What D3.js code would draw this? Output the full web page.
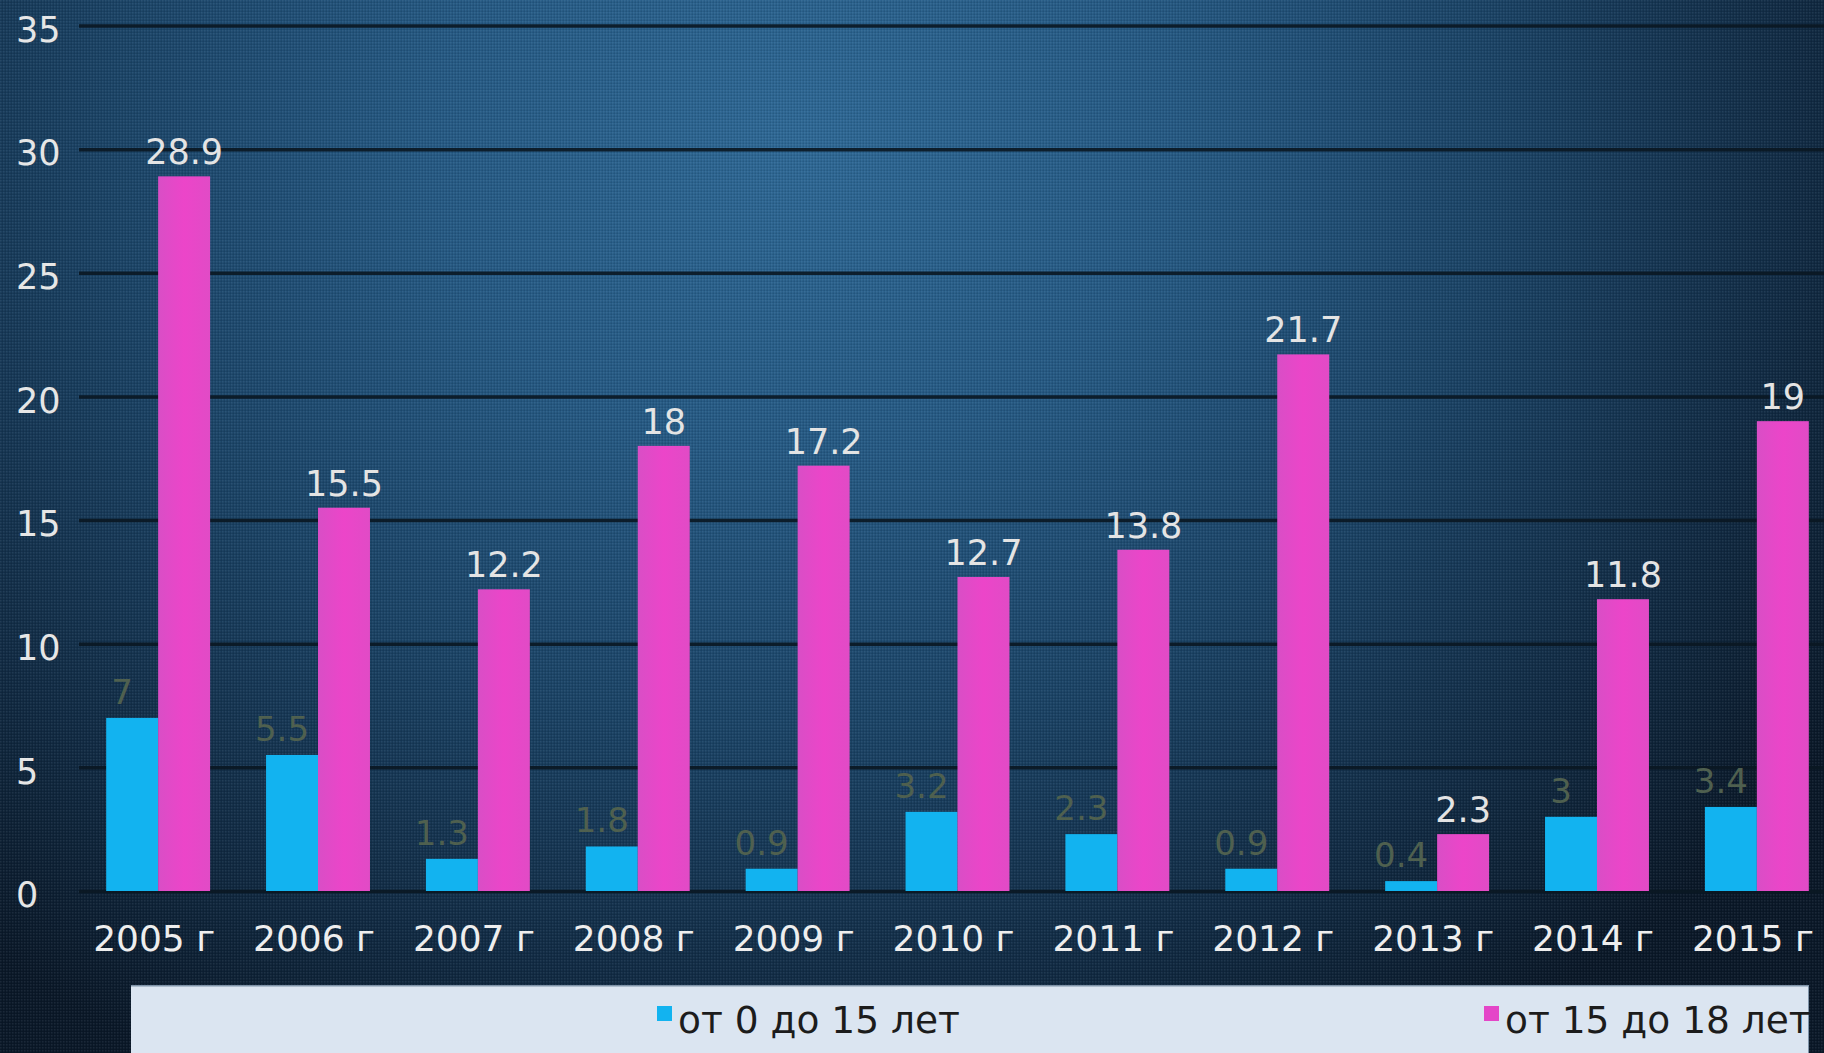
<!DOCTYPE html>
<html>
<head>
<meta charset="utf-8">
<script src="https://cdn.jsdelivr.net/npm/d3@7"></script>
<style>
  html, body { margin: 0; padding: 0; background: #0c1a28; }
  svg { display: block; font-family: "DejaVu Sans", Verdana, sans-serif; }
</style>
</head>
<body>
<svg id="chart" width="1824" height="1053"></svg>
<script>
// Years shown on the category axis
const years = ["2005 г", "2006 г", "2007 г", "2008 г", "2009 г", "2010 г",
               "2011 г", "2012 г", "2013 г", "2014 г", "2015 г"];
// Series: age 0–15 and age 15–18
const seriesNames = ["от 0 до 15 лет", "от 15 до 18 лет"];
const under15 = [7, 5.5, 1.3, 1.8, 0.9, 3.2, 2.3, 0.9, 0.4, 3, 3.4];
const from15to18 = [28.9, 15.5, 12.2, 18, 17.2, 12.7, 13.8, 21.7, 2.3, 11.8, 19];
// Value axis ticks
const yTicks = [0, 5, 10, 15, 20, 25, 30, 35];

const W = 1824, H = 1053;
const svg = d3.select("#chart");
const defs = svg.append("defs");

// Background: soft radial blue glow
const bg = defs.append("radialGradient")
  .attr("id", "bgGrad")
  .attr("gradientUnits", "userSpaceOnUse")
  .attr("cx", 800).attr("cy", 140).attr("r", 1250)
  .attr("gradientTransform", "translate(800,140) scale(1,0.85) translate(-800,-140)");
[[0, "#2e6895"], [0.3, "#255983"], [0.55, "#1b4467"], [0.8, "#112b44"], [1, "#0a1828"]]
  .forEach(([o, c]) => bg.append("stop").attr("offset", o).attr("stop-color", c));

// Fine woven texture over the background
const pat = defs.append("pattern")
  .attr("id", "weave").attr("width", 3).attr("height", 3)
  .attr("patternUnits", "userSpaceOnUse");
pat.append("rect").attr("x", 0).attr("y", 0).attr("width", 1.5).attr("height", 1.5)
  .attr("fill", "#ffffff").attr("opacity", 0.07);
pat.append("rect").attr("x", 1.5).attr("y", 1.5).attr("width", 1.5).attr("height", 1.5)
  .attr("fill", "#000000").attr("opacity", 0.12);

// Pink bars have a slight sheen across their width
const pinkGrad = defs.append("linearGradient").attr("id", "pinkGrad")
  .attr("x1", 0).attr("x2", 1).attr("y1", 0).attr("y2", 0);
[[0, "#d94ec6"], [0.5, "#ec45c9"], [1, "#e14bc6"]]
  .forEach(([o, c]) => pinkGrad.append("stop").attr("offset", o).attr("stop-color", c));

svg.append("rect").attr("width", W).attr("height", H).attr("fill", "url(#bgGrad)");
svg.append("rect").attr("width", W).attr("height", H).attr("fill", "url(#weave)");

// Scales
const x = d3.scaleBand().domain(years).range([79, 1836])
  .paddingInner(0.35).paddingOuter(0.17);
const xs = d3.scaleBand().domain(seriesNames).range([0, x.bandwidth()]);
const y = d3.scaleLinear().domain([0, 35]).range([891, 25.5]);

// Horizontal gridlines
const grid = svg.append("g").attr("transform", "translate(79,0)")
  .call(d3.axisLeft(y).tickValues(yTicks).tickSize(-(W - 79)).tickFormat(""));
grid.select(".domain").remove();
grid.selectAll("line").attr("stroke", "#0a1722").attr("stroke-width", 3.5).attr("stroke-opacity", 0.9);

// Value axis labels (left aligned)
const yAxis = svg.append("g").attr("transform", "translate(16,0)")
  .call(d3.axisLeft(y).tickValues(yTicks).tickSize(0).tickPadding(0));
yAxis.select(".domain").remove();
yAxis.selectAll("text")
  .attr("text-anchor", "start").attr("x", 0).attr("dy", "0.45em")
  .attr("fill", "#e6e6e6").attr("font-size", 35)
  .attr("font-family", "DejaVu Sans, sans-serif");

// Category axis labels
const xAxis = svg.append("g").attr("transform", "translate(0,951)")
  .call(d3.axisBottom(x).tickSize(0).tickPadding(0));
xAxis.select(".domain").remove();
xAxis.selectAll("text")
  .attr("dy", 0).attr("dx", -4).attr("fill", "#eeeeee").attr("font-size", 36)
  .attr("font-family", "DejaVu Sans, sans-serif");

const rows = years.map((yr, i) => ({ year: yr, a: under15[i], b: from15to18[i] }));
const fmt = v => String(v);

// Labels of the 0–15 series sit behind the bars, a little left of centre
svg.append("g").selectAll("text").data(rows).join("text")
  .attr("x", d => x(d.year) + xs(seriesNames[0]) + xs.bandwidth() / 2 - 10)
  .attr("y", d => y(d.a) - 14)
  .attr("text-anchor", "middle")
  .attr("font-size", 34).attr("fill", "#4f604f")
  .text(d => fmt(d.a));

// Bars
const bars = svg.append("g");
bars.selectAll("rect.a").data(rows).join("rect").attr("class", "a")
  .attr("x", d => x(d.year) + xs(seriesNames[0]))
  .attr("width", xs.bandwidth())
  .attr("y", d => y(d.a))
  .attr("height", d => y(0) - y(d.a))
  .attr("fill", "#12b3f0");
bars.selectAll("rect.b").data(rows).join("rect").attr("class", "b")
  .attr("x", d => x(d.year) + xs(seriesNames[1]))
  .attr("width", xs.bandwidth())
  .attr("y", d => y(d.b))
  .attr("height", d => y(0) - y(d.b))
  .attr("fill", "url(#pinkGrad)");

// Labels of the 15–18 series
svg.append("g").selectAll("text").data(rows).join("text")
  .attr("x", d => x(d.year) + xs(seriesNames[1]) + xs.bandwidth() / 2)
  .attr("y", d => y(d.b) - 12)
  .attr("text-anchor", "middle")
  .attr("font-size", 35).attr("fill", "#e4e4e4")
  .text(d => fmt(d.b));

// Legend box
defs.append("clipPath").attr("id", "legendClip")
  .append("rect").attr("x", 131).attr("y", 985).attr("width", 1809 - 131).attr("height", H - 985);
const legend = svg.append("g").attr("clip-path", "url(#legendClip)");
legend.append("rect").attr("x", 131).attr("y", 985).attr("width", 1809 - 131).attr("height", H - 985)
  .attr("fill", "#dbe5f1");
legend.append("line").attr("x1", 131).attr("x2", 1809).attr("y1", 985.5).attr("y2", 985.5)
  .attr("stroke", "#7f93a8").attr("stroke-width", 2);
legend.append("line").attr("x1", 1809).attr("x2", 1809).attr("y1", 985).attr("y2", H)
  .attr("stroke", "#7f93a8").attr("stroke-width", 2);

const legendColors = ["#12b3f0", "#e446c8"];
const legendX = [657, 1484];
seriesNames.forEach((name, i) => {
  legend.append("rect").attr("x", legendX[i]).attr("y", 1006)
    .attr("width", 15).attr("height", 15).attr("fill", legendColors[i]);
  legend.append("text").attr("x", legendX[i] + 21).attr("y", 1033)
    .attr("font-size", 37.5).attr("fill", "#1c1c1c").text(name);
});
</script>
</body>
</html>
